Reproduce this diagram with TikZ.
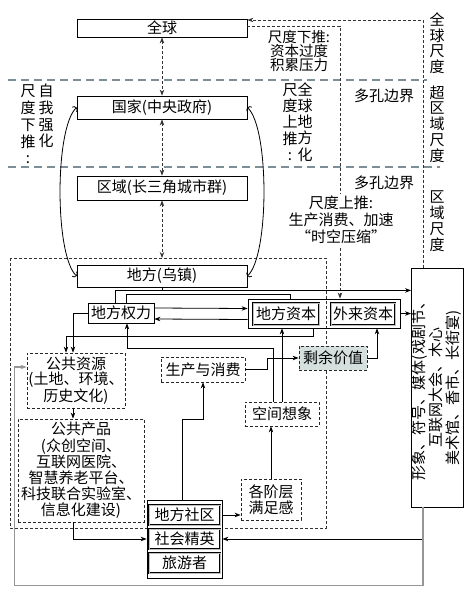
\documentclass[tikz,border=0pt]{standalone}
\usepackage{fontspec}
\usepackage{graphicx}
\setmainfont{Noto Sans CJK SC}
\usetikzlibrary{arrows.meta}
\definecolor{fengehui}{RGB}{125,143,150}
\definecolor{qinghui}{RGB}{212,223,222}
\definecolor{xianhui}{RGB}{150,150,150}

\begin{document}
\begin{tikzpicture}[x=1pt, y=-1pt, line width=.8pt, >={Stealth[length=6pt,width=4.5pt]},
    font=\fontsize{15}{16.5}\selectfont,
    kbox/.style={draw, inner sep=0pt, align=center},
    dbox/.style={draw=black!85, dash pattern=on 3pt off 2pt, inner sep=0pt, align=center},
    zbox/.style={draw, line width=.6pt, double=gray!50, double distance=.6pt, inner sep=0pt},
    xuxian/.style={black!80, dash pattern=on 3pt off 2pt},
    fenge/.style={fengehui, line width=2.4pt, dash pattern=on 8pt off 5pt},
    quxian/.style={{Arc Barb[length=3pt,width=7pt]}-{Arc Barb[length=3pt,width=7pt]}},
    wz/.style={align=center, inner sep=0pt}]
\useasboundingbox (0,0) rectangle (471,596);

% scale separators
\draw[fenge] (8,80) -- (427,80);
\draw[fenge] (8,167) -- (440,167);
\draw[xuxian] (10,258) rectangle (326,528);
\coordinate (dftop) at (162,258);

% scales
\node[kbox, minimum width=170, minimum height=18] (quanqiu) at (162,28) {全球};
\node[kbox, minimum width=170, minimum height=23] (guojia) at (162,107.5) {国家(中央政府)};
\node[kbox, minimum width=170, minimum height=24] (quyu) at (162,188) {区域(长三角城市群)};
\node[kbox, minimum width=170, minimum height=22] (difang) at (162,276) {地方(乌镇)};

% local actors
\node[kbox, minimum width=66, minimum height=20] (quanli) at (121,313) {地方权力};
\node[draw, minimum width=152, minimum height=29] (zb) at (324,313.5) {};
\node[zbox, minimum width=66, minimum height=22] (ziben) at (286,314) {地方资本};
\node[zbox, minimum width=64, minimum height=22] (wailai) at (363,314) {外来资本};
\node[dbox, fill=qinghui, minimum width=68, minimum height=24] (shengyu) at (333,358) {剩余价值};
\node[dbox, minimum width=84, minimum height=25] (shengchan) at (203,369.5) {生产与消费};
\node[dbox, minimum width=74, minimum height=24] (kongjian) at (282,414) {空间想象};
\node[dbox, minimum width=60, minimum height=41, font=\fontsize{15}{16}\selectfont] (manzu) at (271,499.5) {各阶层\\满足感};
\node[dbox, minimum width=98, minimum height=55, font=\fontsize{15}{15.5}\selectfont] (ziyuan) at (76,380.5) {公共资源\\(土地、环境、\\历史文化)};
\node[dbox, minimum width=126, minimum height=103, font=\fontsize{15}{16.2}\selectfont] (chanpin) at (81,470.5)
    {公共产品\\(众创空间、\\互联网医院、\\智慧养老平台、\\科技联合实验室、\\信息化建设)};
\node[draw, fill=white, minimum width=75, minimum height=78] (qun) at (184.5,539) {};
\node[zbox, minimum width=71, minimum height=20] (shequ) at (184.5,515) {地方社区};
\node[zbox, minimum width=71, minimum height=20] (jingying) at (184.5,539) {社会精英};
\node[zbox, minimum width=71, minimum height=20] (youke) at (184.5,563) {旅游者};
\node[kbox, minimum width=51, minimum height=239] (meiti) at (437.5,387.5)
    {\rotatebox{90}{\fontsize{15}{15.5}\selectfont\begin{tabular}{@{}c@{}}形象、符号、媒体(戏剧节、\\互联网大会、木心\\美术馆、香市、长街宴)\end{tabular}}};

% scale links
\draw[xuxian,<->] (quanqiu) -- (guojia);
\draw[xuxian,<->] (guojia) -- (quyu);
\draw[xuxian,<->] (quyu) -- (dftop);
\draw[xuxian,->] ([xshift=-14.5]meiti.north) |- ([yshift=8]quanqiu.east);
\draw[xuxian,->] ([yshift=2]quanqiu.east) -| ([xshift=16]zb.north);
\draw[quxian] (guojia.west) .. controls +(-22,20) and +(-22,-20) .. (difang.west);
\draw[quxian] (guojia.east) .. controls +(22,20) and +(22,-20) .. (difang.east);

% local links
\coordinate (jA) at ([yshift=-3]difang.south);
\draw (difang.south) -- (jA) -| ([xshift=-6]quanli.north);
\draw[->] (jA) -- (jA -| meiti.west);
\draw ([xshift=5]quanli.north) |- ([xshift=-34,yshift=4]zb.north) -- ([xshift=-34]zb.north);
\draw[->] ([yshift=5]quanli.east) -- ([yshift=5]zb.west);
\draw[->] ([yshift=-6]zb.west) -- ([yshift=-6]quanli.east);
\draw[->] (quanli.west) -| ([xshift=-3]ziyuan.north);
\draw[->] ([xshift=-11]zb.south) |- ([xshift=-10,yshift=16]ziyuan.north) -- ([xshift=-10]ziyuan.north);
\draw[->] ([xshift=-9]kongjian.north) |- ([xshift=6,yshift=-25]quanli.south) -- ([xshift=6]quanli.south);
\draw[->] (kongjian.north) -- (kongjian.north |- zb.south);
\draw[->] (shengchan.east) -- ++(22,0) |- (shengyu.west);
\draw[->] (shengyu.east) -| ([xshift=14,yshift=-3]wailai.south);
\draw[->] (zb.east) -- (zb.east -| meiti.west);
\draw[->] ([xshift=-2.5]qun.north) |- ([yshift=-37]shengchan.south) -- (shengchan.south);
\draw[->] (qun.east |- shequ.east) -- (manzu.west |- shequ.east);
\draw[->] (manzu.north) -- (manzu.north |- kongjian.south);
\draw[->] ([xshift=-3]ziyuan.south) -- ([xshift=-8]chanpin.north);
\draw[->] ([xshift=-8]chanpin.south) |- (qun.west |- jingying.west);
\draw[->] ([xshift=-14.5]meiti.south) |- (qun.east |- jingying.east);
\draw[xianhui, line width=1.5pt, ->] ([xshift=-14.5]meiti.south) -- ++(0,78) -| ([xshift=-12,yshift=13.5]ziyuan.west) -- ([yshift=13.5]ziyuan.west);

% labels
\node[wz, font=\fontsize{15}{16.7}\selectfont] (xiatui) at (28,124.5) {尺\\度\\下\\推\\:};
\node[wz, font=\fontsize{15}{16.7}\selectfont] (qianghua) at (46,116) {自\\我\\强\\化};
\node[wz, font=\fontsize{15}{16.2}\selectfont] (shangtui) at (290,122) {尺\\度\\上\\推\\:};
\node[wz, font=\fontsize{15}{16.2}\selectfont] (difanghua) at (305,122) {全\\球\\地\\方\\化};
\node[wz, font=\fontsize{14.5}{14}\selectfont] (jilei) at (299,51) {尺度下推:\\资本过度\\积累压力};
\node[wz] (duokong) at (384,96) {多孔边界};
\node[wz] (duokongb) at (384,183) {多孔边界};
\node[wz, fill=white, inner sep=2pt, font=\fontsize{15}{17}\selectfont] (yasuo) at (341,220) {尺度上推:\\生产消费、加速\\“时空压缩”};
\node[wz, font=\fontsize{15}{15.5}\selectfont] (qqcd) at (437,43) {全\\球\\尺\\度};
\node[wz, font=\fontsize{15}{15.8}\selectfont] (cqycd) at (437,124) {超\\区\\域\\尺\\度};
\node[wz, font=\fontsize{15}{16}\selectfont] (qycd) at (437,221) {区\\域\\尺\\度};
\end{tikzpicture}
\end{document}
